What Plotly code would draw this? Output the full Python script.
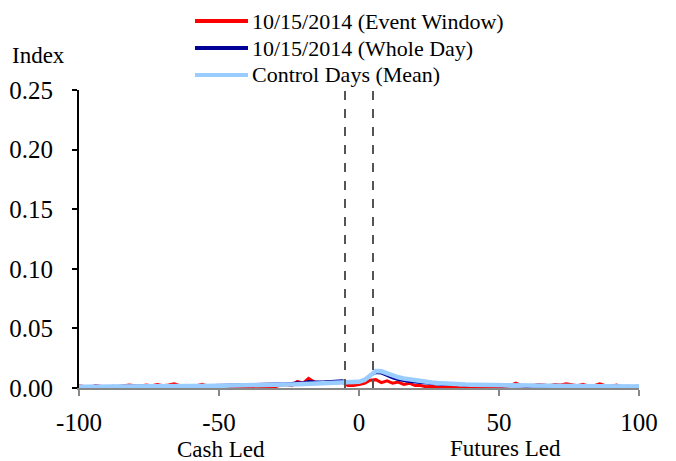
import plotly.graph_objects as go

# lag, -100..100 step 2
lags = list(range(-100, 101, 2))

event_window = [
    0.0020, 0.0010, 0.0005, 0.0020, 0.0010, 0.0005, 0.0015, 0.0010, 0.0020, 0.0025,
    0.0020, 0.0015, 0.0025, 0.0020, 0.0030, 0.0020, 0.0025, 0.0035, 0.0020, 0.0010,
    0.0005, 0.0020, 0.0030, 0.0015, 0.0010, 0.0005, 0.0000, 0.0005, 0.0010, 0.0005,
    0.0015, 0.0005, 0.0010, 0.0000, 0.0005, 0.0010, 0.0025, 0.0030, 0.0020, 0.0055,
    0.0040, 0.0080, 0.0050, 0.0040, 0.0050, 0.0040, 0.0050, 0.0050, 0.0020, 0.0020,
    0.0030, 0.0040, 0.0065, 0.0070, 0.0045, 0.0060, 0.0040, 0.0050, 0.0030, 0.0040,
    0.0020, 0.0020, 0.0010, 0.0015, 0.0005, 0.0010, 0.0005, 0.0010, 0.0000, 0.0005,
    0.0010, 0.0015, 0.0010, 0.0015, 0.0005, 0.0010, 0.0010, 0.0020, 0.0040, 0.0020,
    0.0010, 0.0020, 0.0030, 0.0025, 0.0020, 0.0030, 0.0025, 0.0035, 0.0030, 0.0020,
    0.0030, 0.0015, 0.0020, 0.0035, 0.0020, 0.0015, 0.0025, 0.0010, 0.0015, 0.0005,
    0.0010,
]

whole_day = [
    0.0012, 0.0010, 0.0012, 0.0015, 0.0012, 0.0010, 0.0013, 0.0015, 0.0014, 0.0016,
    0.0015, 0.0017, 0.0016, 0.0018, 0.0017, 0.0016, 0.0019, 0.0020, 0.0018, 0.0017,
    0.0019, 0.0021, 0.0020, 0.0019, 0.0021, 0.0022, 0.0020, 0.0022, 0.0024, 0.0023,
    0.0025, 0.0024, 0.0026, 0.0027, 0.0028, 0.0030, 0.0033, 0.0035, 0.0038, 0.0045,
    0.0042, 0.0055, 0.0050, 0.0048, 0.0052, 0.0055, 0.0058, 0.0060, 0.0045, 0.0048,
    0.0052, 0.0070, 0.0105, 0.0130, 0.0125, 0.0105, 0.0085, 0.0072, 0.0062, 0.0055,
    0.0050, 0.0048, 0.0042, 0.0038, 0.0034, 0.0032, 0.0030, 0.0028, 0.0026, 0.0025,
    0.0026, 0.0030, 0.0024, 0.0022, 0.0021, 0.0020, 0.0019, 0.0020, 0.0018, 0.0017,
    0.0018, 0.0017, 0.0016, 0.0018, 0.0016, 0.0015, 0.0016, 0.0017, 0.0015, 0.0014,
    0.0016, 0.0015, 0.0013, 0.0014, 0.0015, 0.0013, 0.0012, 0.0014, 0.0013, 0.0012,
    0.0014,
]

control_mean = [
    0.0010, 0.0010, 0.0010, 0.0011, 0.0011, 0.0011, 0.0012, 0.0012, 0.0012, 0.0013,
    0.0013, 0.0013, 0.0014, 0.0014, 0.0014, 0.0015, 0.0015, 0.0015, 0.0016, 0.0016,
    0.0016, 0.0017, 0.0017, 0.0018, 0.0018, 0.0019, 0.0019, 0.0020, 0.0020, 0.0021,
    0.0022, 0.0022, 0.0023, 0.0024, 0.0025, 0.0026, 0.0027, 0.0029, 0.0030, 0.0032,
    0.0034, 0.0036, 0.0038, 0.0040, 0.0042, 0.0044, 0.0046, 0.0048, 0.0050, 0.0048,
    0.0052, 0.0068, 0.0105, 0.0143, 0.0140, 0.0122, 0.0102, 0.0090, 0.0080, 0.0072,
    0.0064, 0.0058, 0.0052, 0.0047, 0.0042, 0.0038, 0.0035, 0.0033, 0.0031, 0.0029,
    0.0028, 0.0027, 0.0026, 0.0025, 0.0024, 0.0023, 0.0022, 0.0022, 0.0021, 0.0020,
    0.0020, 0.0019, 0.0019, 0.0018, 0.0018, 0.0017, 0.0017, 0.0016, 0.0016, 0.0015,
    0.0015, 0.0015, 0.0014, 0.0014, 0.0014, 0.0013, 0.0013, 0.0013, 0.0012, 0.0012,
    0.0012,
]

series_names = ["10/15/2014 (Event Window)", "10/15/2014 (Whole Day)", "Control Days (Mean)"]
series_colors = ["#FF0000", "#000099", "#99CCFF"]
series_widths = [3, 3, 4.5]
series_values = [event_window, whole_day, control_mean]

y_ticks = [0.0, 0.05, 0.10, 0.15, 0.20, 0.25]
y_tick_labels = ["0.00", "0.05", "0.10", "0.15", "0.20", "0.25"]
x_ticks = [-100, -50, 0, 50, 100]
x_tick_labels = ["-100", "-50", "0", "50", "100"]
event_bounds = [-5, 5]

FONT = "Liberation Serif, Times New Roman, serif"

fig = go.Figure()
for name, vals, col, w in zip(series_names, series_values, series_colors, series_widths):
    fig.add_trace(go.Scatter(x=lags, y=vals, mode="lines", name=name,
                             line=dict(color=col, width=w), showlegend=False))

for xb in event_bounds:
    fig.add_shape(type="line", xref="x", yref="y", x0=xb, x1=xb, y0=0, y1=0.25,
                  line=dict(color="#555555", width=2, dash="dash"))

# page body has an 8px margin, so the figure sits at (8, 8) in the window
OFF = 8
W, H = 676 - OFF, 461 - OFF
L, T = 79 - OFF, 90 - OFF
R = W - (639 - OFF)
B = H - (388 - OFF)
pw, ph = W - L - R, H - T - B

def px(xp):
    return (xp - OFF - L) / pw

def py(yp):
    return (H - B - (yp - OFF)) / ph

leg_rows = [21, 48, 75]
for name, col, yrow in zip(series_names, series_colors, leg_rows):
    fig.add_shape(type="line", xref="paper", yref="paper", x0=px(195), x1=px(248),
                  y0=py(yrow), y1=py(yrow), line=dict(color=col, width=4))
    fig.add_annotation(xref="paper", yref="paper", x=px(250), y=py(yrow), text=name,
                       showarrow=False, xanchor="left", yanchor="middle",
                       font=dict(family=FONT, size=22, color="black"))

fig.add_annotation(xref="paper", yref="paper", x=px(10), y=py(55), text="Index",
                   showarrow=False, xanchor="left", yanchor="middle",
                   font=dict(family=FONT, size=23, color="black"))
fig.add_annotation(xref="paper", yref="paper", x=px(221), y=py(449), text="Cash Led",
                   showarrow=False, xanchor="center", yanchor="middle",
                   font=dict(family=FONT, size=23, color="black"))
fig.add_annotation(xref="paper", yref="paper", x=px(505), y=py(448), text="Futures Led",
                   showarrow=False, xanchor="center", yanchor="middle",
                   font=dict(family=FONT, size=23, color="black"))

fig.update_layout(
    width=W, height=H,
    margin=dict(l=L, r=R, t=T, b=B),
    paper_bgcolor="white", plot_bgcolor="white",
    font=dict(family=FONT, size=22, color="black"),
    showlegend=False,
    xaxis=dict(range=[-100, 100], tickvals=x_ticks, ticktext=x_tick_labels,
               automargin=False,
               showgrid=False, zeroline=False, showline=True, linecolor="#888888",
               linewidth=2, ticks="outside", ticklen=6, tickcolor="#888888", tickwidth=2,
               ticklabelstandoff=5, tickfont=dict(family=FONT, size=25)),
    yaxis=dict(range=[0, 0.25], tickvals=y_ticks, ticktext=y_tick_labels,
               automargin=False,
               showgrid=False, zeroline=False, showline=True, linecolor="black",
               linewidth=2, ticks="outside", ticklen=5, tickcolor="black", tickwidth=1.5,
               ticklabelstandoff=14, tickfont=dict(family=FONT, size=25)),
)

fig.write_html("out.html")
